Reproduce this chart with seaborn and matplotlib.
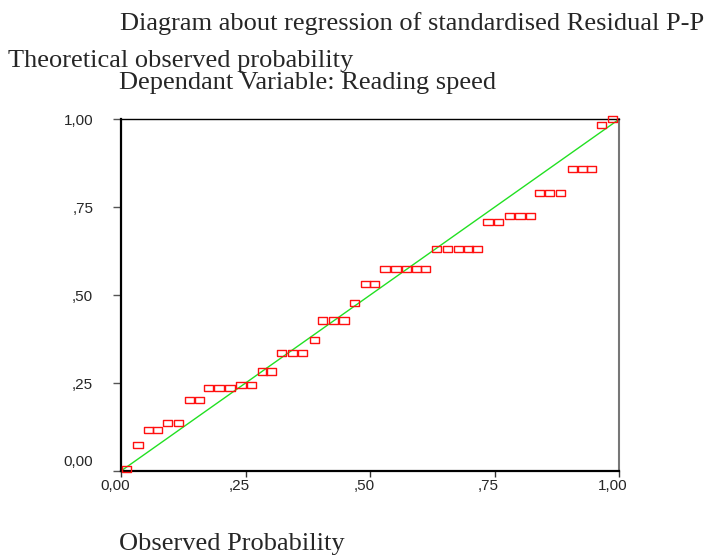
import matplotlib
matplotlib.use("Agg")
import matplotlib.pyplot as plt
import matplotlib.transforms as mtransforms
import seaborn as sns
import pandas as pd

# Observed cumulative probability (x) and expected cumulative probability (y)
observed_prob = [0.011, 0.034, 0.056, 0.073, 0.094, 0.116, 0.137, 0.158, 0.176, 0.197,
                 0.219, 0.241, 0.262, 0.284, 0.301, 0.323, 0.344, 0.365, 0.388, 0.405,
                 0.426, 0.448, 0.469, 0.491, 0.509, 0.530, 0.552, 0.573, 0.594, 0.612,
                 0.634, 0.655, 0.677, 0.698, 0.715, 0.737, 0.758, 0.780, 0.801, 0.823,
                 0.840, 0.861, 0.883, 0.906, 0.927, 0.944, 0.965, 0.987]
expected_prob = [0.005, 0.073, 0.116, 0.116, 0.137, 0.137, 0.202, 0.202, 0.236, 0.236,
                 0.236, 0.245, 0.245, 0.283, 0.283, 0.335, 0.335, 0.335, 0.373, 0.428,
                 0.428, 0.428, 0.477, 0.532, 0.532, 0.575, 0.575, 0.575, 0.575, 0.575,
                 0.631, 0.631, 0.631, 0.631, 0.631, 0.708, 0.708, 0.725, 0.725, 0.725,
                 0.790, 0.790, 0.790, 0.858, 0.858, 0.858, 0.983, 1.000]
ref_x = [0.0, 1.0]
ref_y = [0.0, 1.0]
tick_values = [0.0, 0.25, 0.5, 0.75, 1.0]
tick_labels = ["0,00", ",25", ",50", ",75", "1,00"]

title_text = "Diagram about regression of standardised Residual P-P"
ylabel_text = "Theoretical observed probability"
subtitle_text = "Dependant Variable: Reading speed"
xlabel_text = "Observed Probability"

sns.set_style("white")
plt.rcParams["font.family"] = ["Liberation Sans", "DejaVu Sans"]

df = pd.DataFrame({"x": observed_prob, "y": expected_prob})
ref = pd.DataFrame({"x": ref_x, "y": ref_y})

fig = plt.figure(figsize=(7.08, 5.58), dpi=100)
ax = fig.add_axes([121 / 708, 1 - 471 / 558, 498 / 708, (471 - 119.3) / 558])

sns.lineplot(data=ref, x="x", y="y", ax=ax, color="#22e022", lw=1.0, zorder=2)
rect = [(-1.5, -1), (1.5, -1), (1.5, 1), (-1.5, 1), (-1.5, -1)]
sns.scatterplot(data=df, x="x", y="y", ax=ax, marker=rect, s=44,
                facecolors="none", edgecolor="#ff1010", linewidth=1.0,
                zorder=3, clip_on=False)

ax.set_xlim(0, 1)
ax.set_ylim(0, 1)
ax.set_xticks(tick_values)
ax.set_xticklabels(tick_labels)
ax.set_yticks(tick_values)
ax.set_yticklabels(tick_labels)
ax.set_xlabel("")
ax.set_ylabel("")

for side in ["left", "bottom"]:
    ax.spines[side].set_color("black")
    ax.spines[side].set_linewidth(1.6)
ax.spines["top"].set_color("black")
ax.spines["top"].set_linewidth(1.0)
ax.spines["right"].set_color("#777777")
ax.spines["right"].set_linewidth(1.5)

ax.tick_params(axis="x", direction="out", length=4, width=1, color="#333333",
               labelsize=11, pad=2, bottom=True)
ax.tick_params(axis="y", direction="out", length=6, width=1, color="#555555",
               labelsize=11, pad=14, left=True)

# raise the 0,00 y-label as in the reference
lbl0 = ax.get_yticklabels()[0]
lbl0.set_transform(lbl0.get_transform() +
                   mtransforms.ScaledTranslation(0, 11 / 100, fig.dpi_scale_trans))
# x labels sit slightly left of their ticks in the reference
for lbl in ax.get_xticklabels():
    lbl.set_transform(lbl.get_transform() +
                      mtransforms.ScaledTranslation(-6 / 100, 0, fig.dpi_scale_trans))

serif = ["Liberation Serif", "DejaVu Serif"]
fs = 19
fig.text(120 / 708, 1 - 30 / 558, title_text, family=serif, fontsize=fs,
         ha="left", va="baseline")
fig.text(8 / 708, 1 - 67 / 558, ylabel_text, family=serif, fontsize=fs,
         ha="left", va="baseline")
fig.text(119 / 708, 1 - 89 / 558, subtitle_text, family=serif, fontsize=fs,
         ha="left", va="baseline")
fig.text(119 / 708, 1 - 550 / 558, xlabel_text, family=serif, fontsize=fs,
         ha="left", va="baseline")

fig.savefig("out.png", dpi=100)
